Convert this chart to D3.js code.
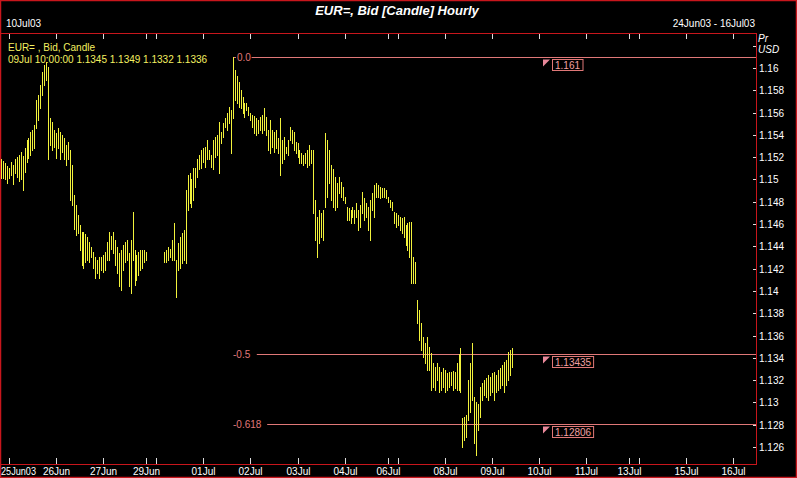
<!DOCTYPE html>
<html><head><meta charset="utf-8">
<script src="https://cdn.jsdelivr.net/npm/d3@7"></script>
<style>
html,body{margin:0;padding:0;background:#000;}
svg{display:block;}
text{font-family:"Liberation Sans",Arial,sans-serif;}
</style></head>
<body>
<svg id="chart" width="797" height="478"></svg>
<script>
// ---- data ----
const sessions = [
  ["24Jun03",20,24],["25Jun03",0,24],["26Jun03",0,24],["27Jun03",0,22],["29Jun03",19,24],
  ["30Jun03",0,24],["01Jul03",0,24],["02Jul03",0,24],["03Jul03",0,24],["04Jul03",0,22],
  ["06Jul03",19,24],["07Jul03",0,24],["08Jul03",0,24],["09Jul03",0,24],["10Jul03",0,24],
  ["11Jul03",0,22],["13Jul03",19,24],["14Jul03",0,24],["15Jul03",0,24],["16Jul03",0,12]
];
const tickDays   = ["25Jun03","26Jun03","27Jun03","29Jun03","30Jun03","01Jul03","02Jul03","03Jul03","04Jul03","06Jul03","07Jul03","08Jul03","09Jul03","10Jul03","11Jul03","13Jul03","14Jul03","15Jul03","16Jul03"];
const tickLabels = ["25Jun03","26Jun","27Jun","29Jun","","01Jul","02Jul","03Jul","04Jul","06Jul","","08Jul","09Jul","10Jul","11Jul","13Jul","","15Jul","16Jul"];
const priceTicks = [1.126,1.128,1.13,1.132,1.134,1.136,1.138,1.14,1.142,1.144,1.146,1.148,1.15,1.152,1.154,1.156,1.158,1.16,1.162];
const priceLabels = ["1.126","1.128","1.13","1.132","1.134","1.136","1.138","1.14","1.142","1.144","1.146","1.148","1.15","1.152","1.154","1.156","1.158","1.16",""];
// hourly highs / lows from 24Jun 20:00 to 09Jul 10:00 (null = no trade)
const highs = [
1.1518,1.1517,1.1515,1.1512,1.1510,1.1516,1.1513,1.1518,1.1520,1.1522,1.1525,1.1521,1.1528,1.1535,1.1537,1.1543,1.1544,1.1549,1.1571,1.1576,
1.1585,1.1596,1.1603,1.1605,1.1601,1.1555,1.1552,1.1544,1.1542,1.1546,1.1543,1.1540,1.1537,1.1531,1.1534,1.1526,1.1513,1.1486,1.1477,1.1468,
1.1459,1.1453,1.1453,1.1451,1.1448,1.1444,1.1439,1.1435,1.1430,1.1428,1.1430,1.1430,1.1432,1.1435,1.1444,1.1453,1.1449,1.1453,1.1446,1.1439,
1.1434,1.1437,1.1441,1.1444,1.1446,1.1434,1.1446,1.1471,1.1437,1.1432,1.1435,1.1437,1.1437,1.1437,1.1435,null,null,null,null,null,
null,null,null,1.1435,1.1437,1.1439,1.1438,1.1446,1.1461,1.1428,1.1443,1.1448,1.1452,1.1455,1.1491,1.1504,1.1506,1.1500,1.1510,1.1510,
1.1518,1.1522,1.1526,1.1528,1.1529,1.1535,1.1526,1.1522,1.1535,1.1538,1.1540,1.1552,1.1543,1.1551,1.1555,1.1560,1.1565,1.1562,1.1610,1.1598,
1.1593,1.1587,1.1580,1.1574,1.1569,1.1569,1.1565,1.1560,1.1558,1.1557,1.1555,1.1553,1.1556,1.1558,1.1564,1.1556,1.1544,1.1553,1.1544,1.1543,
1.1544,1.1537,1.1555,1.1535,1.1538,1.1529,1.1535,1.1547,1.1544,1.1543,1.1534,1.1533,1.1526,1.1524,1.1522,1.1524,1.1526,1.1531,1.1526,1.1526,
1.1482,1.1466,1.1473,1.1470,1.1473,1.1542,1.1535,1.1526,1.1513,1.1509,1.1502,1.1497,1.1502,1.1498,1.1493,1.1484,1.1475,1.1474,1.1473,1.1475,
1.1473,1.1479,1.1473,1.1477,1.1489,1.1483,1.1479,1.1475,1.1482,1.1488,1.1495,1.1497,1.1495,1.1493,1.1492,1.1492,1.1491,1.1484,1.1482,1.1480,
1.1471,1.1470,1.1468,1.1466,1.1465,1.1466,1.1459,1.1461,1.1462,1.1462,1.1430,1.1426,1.1392,1.1383,1.1371,1.1359,1.1353,1.1359,1.1350,1.1344,
1.1335,1.1332,1.1335,1.1332,1.1327,1.1331,1.1329,1.1326,1.1327,1.1327,1.1328,1.1327,1.1335,1.1343,1.1349,1.1286,1.1287,1.1289,1.1320,1.1335,
1.1353,1.1305,1.1300,1.1299,1.1314,1.1317,1.1320,1.1322,1.1325,1.1323,1.1326,1.1327,1.1325,1.1329,1.1331,1.1334,1.1336,1.1338,1.1345,1.1347,
1.1349
];
const lows = [
1.1501,1.1501,1.1500,1.1497,1.1501,1.1504,1.1496,1.1506,1.1502,1.1499,1.1500,1.1491,1.1507,1.1516,1.1519,1.1522,1.1526,1.1528,1.1546,1.1553,
1.1564,1.1576,1.1585,1.1589,1.1518,1.1531,1.1526,1.1529,1.1519,1.1528,1.1518,1.1525,1.1518,1.1513,1.1518,1.1482,1.1477,1.1456,1.1450,1.1452,
1.1437,1.1423,1.1421,1.1426,1.1428,1.1426,1.1430,1.1421,1.1412,1.1416,1.1412,1.1419,1.1417,1.1419,1.1428,1.1428,1.1438,1.1434,1.1423,1.1416,
1.1404,1.1401,1.1419,1.1426,1.1428,1.1404,1.1398,1.1428,1.1405,1.1410,1.1414,1.1419,1.1421,1.1426,1.1428,null,null,null,null,null,
null,null,null,1.1426,1.1426,1.1428,1.1430,1.1428,1.1428,1.1395,1.1419,1.1421,1.1425,1.1428,1.1425,1.1473,1.1479,1.1475,1.1482,1.1493,
1.1502,1.1509,1.1510,1.1516,1.1511,1.1518,1.1518,1.1511,1.1509,1.1520,1.1522,1.1506,1.1533,1.1538,1.1547,1.1544,1.1551,1.1524,1.1555,1.1571,
1.1569,1.1565,1.1564,1.1560,1.1556,1.1562,1.1558,1.1553,1.1547,1.1542,1.1540,1.1542,1.1544,1.1542,1.1544,1.1540,1.1526,1.1524,1.1529,1.1525,
1.1528,1.1524,1.1504,1.1515,1.1518,1.1524,1.1522,1.1535,1.1533,1.1526,1.1524,1.1520,1.1515,1.1515,1.1513,1.1515,1.1511,1.1513,1.1515,1.1470,
1.1446,1.1430,1.1443,1.1448,1.1446,1.1475,1.1484,1.1497,1.1482,1.1475,1.1473,1.1475,1.1488,1.1484,1.1482,1.1479,1.1464,1.1464,1.1461,1.1466,
1.1461,1.1466,1.1455,1.1457,1.1470,1.1464,1.1466,1.1455,1.1446,1.1473,1.1466,1.1484,1.1484,1.1483,1.1484,1.1484,1.1483,1.1480,1.1475,1.1473,
1.1461,1.1457,1.1459,1.1455,1.1452,1.1448,1.1441,1.1437,1.1430,1.1407,1.1407,1.1407,1.1371,1.1356,1.1347,1.1341,1.1335,1.1329,1.1329,1.1311,
1.1314,1.1311,1.1320,1.1309,1.1311,1.1314,1.1309,1.1311,1.1314,1.1316,1.1311,1.1313,1.1311,1.1311,1.1309,1.1260,1.1266,1.1269,1.1284,1.1291,
1.1302,1.1264,1.1253,1.1275,1.1287,1.1302,1.1307,1.1305,1.1302,1.1307,1.1309,1.1302,1.1309,1.1311,1.1313,1.1316,1.1309,1.1316,1.1320,1.1325,
1.1332
];
const fibLabels = ["0.0","-0.5","-0.618"];
const fibPrices = [1.161,1.13435,1.12806];
const fibValueLabels = ["1.161","1.13435","1.12806"];
const fibStartSlot = "01Jul03 15";

const titleText = "EUR=, Bid [Candle] Hourly";
const dateText = "10Jul03";
const rangeText = "24Jun03 - 16Jul03";
const legendLines = ["EUR= , Bid, Candle","09Jul 10:00:00 1.1345 1.1349 1.1332 1.1336"];

// ---- layout ----
const W = 797, H = 478;
const plot = {left:1, right:757, top:33, bottom:464};
const red = "#c8161c", fibColor = "#e07878", candleColor = "#f2f23c";

const slots = [];
sessions.forEach(([d,a,b]) => { for (let h=a; h<b; h++) slots.push(d+" "+h); });

const x = d3.scaleBand().domain(slots).range([plot.left, plot.right]).paddingInner(0).paddingOuter(0);
const y = d3.scaleLinear().domain([1.126, 1.16]).range([447, 68]);

const svg = d3.select("#chart");
svg.append("rect").attr("width",W).attr("height",H).attr("fill","#000");

// frame
svg.append("rect").attr("x",0.5).attr("y",0.5).attr("width",W-1).attr("height",H-1)
  .attr("fill","none").attr("stroke",red).attr("stroke-width",1.5);
svg.append("line").attr("x1",0).attr("x2",plot.right).attr("y1",plot.top+0.5).attr("y2",plot.top+0.5).attr("stroke",red);
svg.append("line").attr("x1",0).attr("x2",plot.right).attr("y1",plot.bottom+0.5).attr("y2",plot.bottom+0.5).attr("stroke",red);
svg.append("line").attr("x1",plot.right-0.5).attr("x2",plot.right-0.5).attr("y1",plot.top).attr("y2",plot.bottom+1).attr("stroke",red);

// title texts
svg.append("text").attr("x",397).attr("y",15).attr("text-anchor","middle")
  .attr("fill","#fff").attr("font-size",13).attr("font-weight","bold").attr("font-style","italic").text(titleText);
svg.append("text").attr("x",6).attr("y",27).attr("fill","#fff").attr("font-size",10).text(dateText);
svg.append("text").attr("x",755).attr("y",27).attr("text-anchor","end").attr("fill","#fff").attr("font-size",10).text(rangeText);

// legend
legendLines.forEach((t,i)=>{
  svg.append("text").attr("x",8).attr("y",51+i*12).attr("fill","#f4f060").attr("font-size",10).text(t);
});

// x ticks (top & bottom)
const tickX = d => Math.round(x(d+" "+sessions.find(s=>s[0]===d)[1]))+0.5;
const xt = svg.append("g");
tickDays.forEach((d,i)=>{
  const px = tickX(d);
  xt.append("line").attr("x1",px).attr("x2",px).attr("y1",plot.top+1).attr("y2",plot.top+6).attr("stroke","#ddd");
  xt.append("line").attr("x1",px).attr("x2",px).attr("y1",plot.bottom-6).attr("y2",plot.bottom).attr("stroke","#ddd");
  if (tickLabels[i]) {
    const first = i === 0;
    const t = xt.append("text").attr("x",first ? 1 : px).attr("y",475).attr("text-anchor",first ? "start" : "middle")
      .attr("fill","#fff").attr("font-size",10).text(tickLabels[i]);
    if (first) t.attr("textLength",35).attr("lengthAdjust","spacingAndGlyphs");
  }
});

// y axis
const yt = svg.append("g");
priceTicks.forEach((v,i)=>{
  const py = Math.round(y(v))+0.5;
  yt.append("line").attr("x1",plot.right-4).attr("x2",plot.right-1).attr("y1",py).attr("y2",py).attr("stroke","#ddd");
  if (priceLabels[i]) yt.append("text").attr("x",plot.right+2).attr("y",py).attr("dy","0.35em")
    .attr("fill","#fff").attr("font-size",10).text(priceLabels[i]);
});
svg.append("text").attr("x",plot.right+1).attr("y",42).attr("fill","#fff").attr("font-size",10).attr("font-style","italic").text("Pr");
svg.append("text").attr("x",plot.right+1).attr("y",53).attr("fill","#fff").attr("font-size",10).attr("font-style","italic").text("USD");

// clip
svg.append("clipPath").attr("id","clip").append("rect")
  .attr("x",plot.left).attr("y",plot.top+1).attr("width",plot.right-plot.left-1).attr("height",plot.bottom-plot.top-1);
const g = svg.append("g").attr("clip-path","url(#clip)");

// fibonacci lines
const fx0 = Math.round(x(fibStartSlot));
fibPrices.forEach((p,i)=>{
  const py = Math.round(y(p))+0.5;
  const labW = fibLabels[i].length*5.2;
  g.append("line").attr("x1",fx0+labW+3).attr("x2",plot.right).attr("y1",py).attr("y2",py).attr("stroke",fibColor);
  if (i===0) g.append("line").attr("x1",fx0).attr("x2",fx0+3).attr("y1",py).attr("y2",py).attr("stroke",fibColor);
  g.append("text").attr("x",fx0+(i===0?4:0)).attr("y",py).attr("dy","0.35em").attr("fill",fibColor).attr("font-size",10).text(fibLabels[i]);
  const bx = 552;
  g.append("path").attr("d",`M${bx-9},${py+2}h7l-7,7z`).attr("fill","#e8889a");
  const bw = fibValueLabels[i].length*5.3+4;
  g.append("rect").attr("x",bx+0.5).attr("y",py+2).attr("width",bw).attr("height",11)
    .attr("fill","none").attr("stroke",fibColor);
  g.append("text").attr("x",bx+3).attr("y",py+11).attr("fill","#f0a0a0").attr("font-size",10).text(fibValueLabels[i]);
});

// candles
const bars = slots.slice(0, highs.length).map((k,i)=>({k, h:highs[i], l:lows[i]})).filter(d=>d.h!=null);
g.selectAll("line.c").data(bars).enter().append("line").attr("class","c")
  .attr("x1",d=>Math.round(x(d.k))+0.5).attr("x2",d=>Math.round(x(d.k))+0.5)
  .attr("y1",d=>Math.round(y(d.h))).attr("y2",d=>Math.round(y(d.l))+1)
  .attr("stroke",candleColor).attr("stroke-width",1);
</script>
</body></html>
